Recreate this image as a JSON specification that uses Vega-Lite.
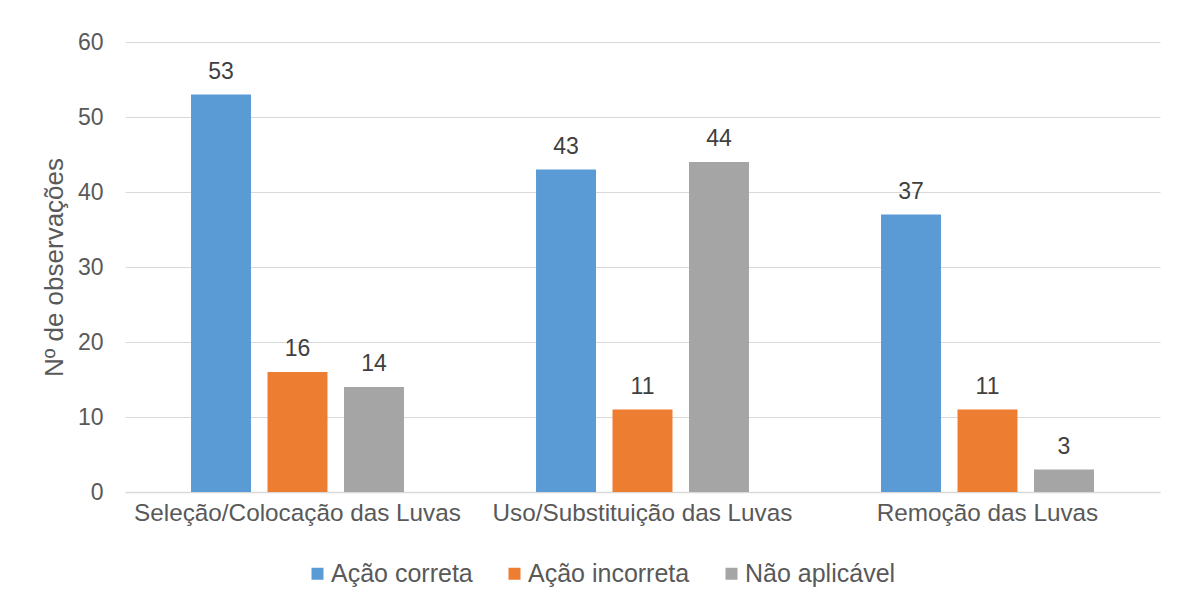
{
  "$schema": "https://vega.github.io/schema/vega-lite/v6.json",
  "width": 1035,
  "height": 450,
  "autosize": {"type": "none"},
  "padding": {"left": 125, "top": 42, "right": 18, "bottom": 112},
  "background": "white",
  "data": {
    "values": [
      {"etapa": "Seleção/Colocação das Luvas", "acao": "Ação correta", "n": 53},
      {"etapa": "Seleção/Colocação das Luvas", "acao": "Ação incorreta", "n": 16},
      {"etapa": "Seleção/Colocação das Luvas", "acao": "Não aplicável", "n": 14},
      {"etapa": "Uso/Substituição das Luvas", "acao": "Ação correta", "n": 43},
      {"etapa": "Uso/Substituição das Luvas", "acao": "Ação incorreta", "n": 11},
      {"etapa": "Uso/Substituição das Luvas", "acao": "Não aplicável", "n": 44},
      {"etapa": "Remoção das Luvas", "acao": "Ação correta", "n": 37},
      {"etapa": "Remoção das Luvas", "acao": "Ação incorreta", "n": 11},
      {"etapa": "Remoção das Luvas", "acao": "Não aplicável", "n": 3}
    ]
  },
  "encoding": {
    "x": {
      "field": "etapa",
      "type": "nominal",
      "sort": null,
      "scale": {"paddingInner": 0, "paddingOuter": 0},
      "axis": {
        "title": null,
        "labelAngle": 0,
        "labelFontSize": 24.3,
        "labelColor": "#595959",
        "labelPadding": 9,
        "labelLimit": 0,
        "ticks": false,
        "domainColor": "#d9d9d9",
        "domainWidth": 1.5
      }
    },
    "xOffset": {
      "field": "acao",
      "type": "nominal",
      "sort": ["Ação correta", "Ação incorreta", "Não aplicável"],
      "scale": {"paddingInner": 0.216, "paddingOuter": 0.863}
    },
    "y": {
      "field": "n",
      "type": "quantitative",
      "scale": {"domain": [0, 60]},
      "axis": {
        "title": "Nº de observações",
        "titleFontSize": 26,
        "titleFontWeight": "normal",
        "titleColor": "#595959",
        "titlePadding": 10,
        "values": [0, 10, 20, 30, 40, 50, 60],
        "labelFontSize": 23,
        "labelColor": "#595959",
        "labelPadding": 22,
        "ticks": false,
        "domain": false,
        "gridColor": "#d9d9d9",
        "gridWidth": 1.2
      }
    }
  },
  "layer": [
    {
      "mark": {"type": "bar"},
      "encoding": {
        "color": {
          "field": "acao",
          "type": "nominal",
          "sort": ["Ação correta", "Ação incorreta", "Não aplicável"],
          "scale": {
            "domain": ["Ação correta", "Ação incorreta", "Não aplicável"],
            "range": ["#5B9BD5", "#ED7D31", "#A5A5A5"]
          },
          "legend": {
            "title": null,
            "orient": "none",
            "direction": "horizontal",
            "legendX": 180,
            "legendY": 519,
            "symbolType": "square",
            "symbolSize": 144,
            "symbolStrokeWidth": 0,
            "labelFontSize": 25,
            "labelColor": "#595959",
            "labelOffset": 1,
            "labelLimit": 0,
            "columnPadding": 29
          }
        }
      }
    },
    {
      "mark": {"type": "text", "baseline": "bottom", "dy": -11, "fontSize": 23, "color": "#404040"},
      "encoding": {
        "text": {"field": "n", "type": "quantitative"}
      }
    }
  ],
  "config": {
    "font": "Liberation Sans",
    "view": {"stroke": null}
  }
}
